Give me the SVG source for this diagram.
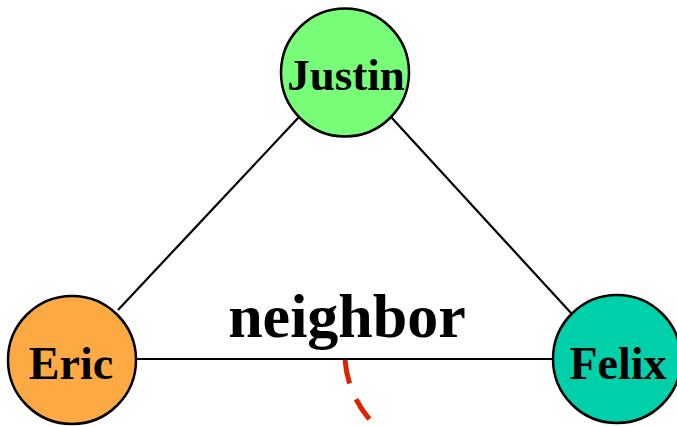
<svg xmlns="http://www.w3.org/2000/svg" width="677" height="426" viewBox="0 0 677 426">
<style>
.n{stroke:#000;stroke-width:2.5}
.t{font-family:"Liberation Serif",serif;font-weight:bold;fill:#000;text-anchor:middle}
.e{stroke:#000;stroke-width:2.2;fill:none}
</style>
<rect width="677" height="426" fill="#fff"/>
<g id="connectors">
<line class="e" x1="299" y1="117" x2="118" y2="310"/>
<line class="e" x1="391" y1="117" x2="571" y2="313"/>
<line class="e" x1="137" y1="359" x2="553" y2="359"/>
<path d="M345,360 Q348,395 371,421" fill="none" stroke="#dd2200" stroke-width="5" stroke-dasharray="24,17"/>
</g>
<text class="t" x="347" y="337" font-size="62">neighbor</text>
<g id="justin">
<circle class="n" cx="345" cy="72.5" r="64" fill="#77fd77"/>
<text class="t" x="346" y="90" font-size="45">Justin</text>
</g>
<g id="eric">
<circle class="n" cx="72" cy="360" r="64" fill="#fdaa44"/>
<text class="t" x="71" y="379" font-size="46">Eric</text>
</g>
<g id="felix">
<circle class="n" cx="617" cy="359" r="64" fill="#00d0aa"/>
<text class="t" x="618" y="379" font-size="46">Felix</text>
</g>
</svg>
